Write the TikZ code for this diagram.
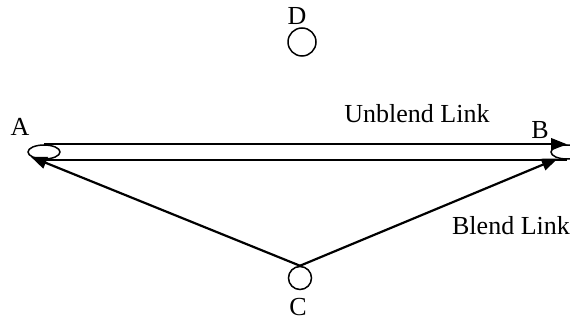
\documentclass[tikz,border=0pt]{standalone}
\usepackage{fontspec}
\setmainfont{Liberation Serif}
\usetikzlibrary{arrows.meta, shapes.geometric}

\begin{document}
\begin{tikzpicture}[x=1pt,y=-1pt,line width=2.2pt,>={Triangle[length=16pt,width=12pt]},
  site/.style={draw,ellipse,line width=1.5pt,minimum width=32pt,minimum height=14pt,inner sep=0pt},
  hub/.style={draw,circle,line width=1.5pt,inner sep=0pt},
  lbl/.style={anchor=base,inner sep=0pt,font=\fontsize{26}{28}\selectfont}]
  \useasboundingbox (0,0) rectangle (570,320);
  % nodes
  \node[site] (A) at (44,152) {};
  \node[site] (B) at (567,152) {};
  \node[hub,minimum size=23pt] (C) at (300,278) {};
  \node[hub,minimum size=28pt] (D) at (302,42) {};
  % labels
  \node[lbl] (la) at (20,136) {A};
  \node[lbl] (lb) at (540,139) {B};
  \node[lbl] (lc) at (298,315) {C};
  \node[lbl] (ld) at (297,25) {D};
  \node[lbl] (lu) at (417,123) {Unblend Link};
  \node[lbl] (lbl2) at (511,235) {Blend Link};
  % links
  \draw[->] (A.north) -- (B.north);
  \draw (A.south) -- (B.south);
  \draw[->] (C.north) -- (A.200);
  \draw[->] (C.north) -- (B.215);
\end{tikzpicture}
\end{document}
